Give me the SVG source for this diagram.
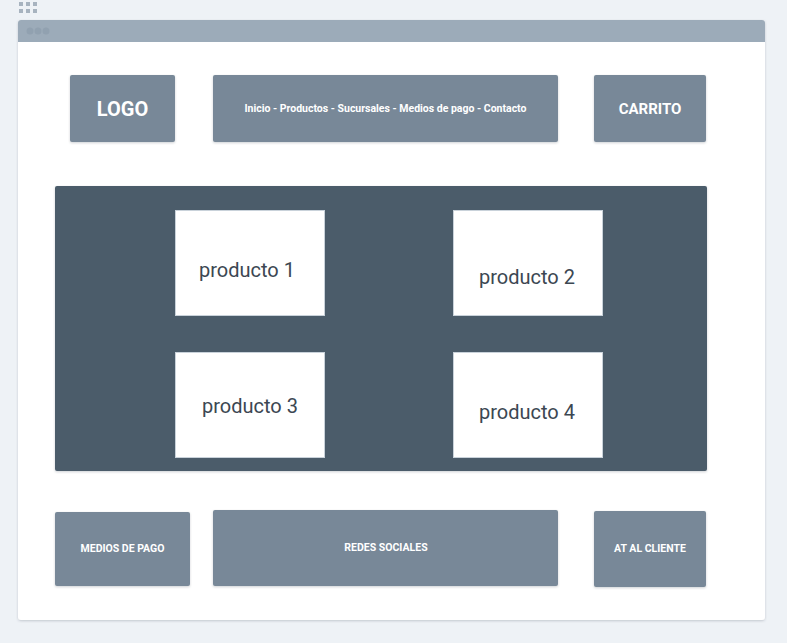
<svg xmlns="http://www.w3.org/2000/svg" width="787" height="643" viewBox="0 0 787 643">
  <style>
    .block { fill: #788898; }
    .card { fill: #ffffff; stroke: #c9d2da; stroke-width: 1; }
    .lbl { font-family: "Roboto", "DejaVu Sans Condensed", sans-serif; fill: #ffffff; text-anchor: middle; dominant-baseline: central; font-weight: bold; }
    .prod { font-family: "Roboto", "DejaVu Sans", sans-serif; fill: #3c4752; text-anchor: middle; dominant-baseline: central; font-size: 20px; }
  </style>
  <defs>
    <filter id="sh" x="-5%" y="-5%" width="110%" height="115%">
      <feDropShadow dx="0" dy="1" stdDeviation="0.8" flood-color="#3c4752" flood-opacity="0.25"/>
    </filter>
  </defs>
  <rect width="787" height="643" fill="#eef2f6"/>
  <!-- app grip -->
  <g fill="#a7b3bf">
    <rect x="19" y="2" width="4" height="4"/><rect x="26" y="2" width="4" height="4"/><rect x="33" y="2" width="4" height="4"/>
    <rect x="19" y="9" width="4" height="4"/><rect x="26" y="9" width="4" height="4"/><rect x="33" y="9" width="4" height="4"/>
  </g>
  <!-- browser window -->
  <g id="window">
    <rect x="18" y="20" width="747" height="600" rx="3" fill="#ffffff" filter="url(#sh)"/>
    <path d="M18 42 V23 a3 3 0 0 1 3 -3 H762 a3 3 0 0 1 3 3 V42 Z" fill="#9cabb9"/>
    <g fill="#91a1b0">
      <circle cx="30" cy="31" r="3.5"/><circle cx="38" cy="31" r="3.5"/><circle cx="46" cy="31" r="3.5"/>
    </g>
  </g>
  <g id="logo">
    <rect class="block" x="70" y="75" width="105" height="67" rx="2" filter="url(#sh)"/>
    <text class="lbl" x="122.5" y="109" font-size="20" font-weight="500">LOGO</text>
  </g>
  <g id="nav">
    <rect class="block" x="213" y="75" width="345" height="67" rx="2" filter="url(#sh)"/>
    <text class="lbl" x="385.5" y="108" font-size="10.5" font-weight="500">Inicio - Productos - Sucursales - Medios de pago - Contacto</text>
  </g>
  <g id="carrito">
    <rect class="block" x="594" y="75" width="112" height="67" rx="2" filter="url(#sh)"/>
    <text class="lbl" x="650" y="109" font-size="15">CARRITO</text>
  </g>
  <g id="catalogo">
    <rect x="55" y="186" width="652" height="285" rx="2" fill="#4b5c6b" filter="url(#sh)"/>
  </g>
  <g id="producto1">
    <rect class="card" x="175.5" y="210.5" width="149" height="105"/>
    <text class="prod" x="247" y="270">producto 1</text>
  </g>
  <g id="producto2">
    <rect class="card" x="453.5" y="210.5" width="149" height="105"/>
    <text class="prod" x="527" y="277">producto 2</text>
  </g>
  <g id="producto3">
    <rect class="card" x="175.5" y="352.5" width="149" height="105"/>
    <text class="prod" x="250" y="406">producto 3</text>
  </g>
  <g id="producto4">
    <rect class="card" x="453.5" y="352.5" width="149" height="105"/>
    <text class="prod" x="527" y="412">producto 4</text>
  </g>
  <g id="medios">
    <rect class="block" x="55" y="512" width="135" height="74" rx="2" filter="url(#sh)"/>
    <text class="lbl" x="122.5" y="548" font-size="10.5">MEDIOS DE PAGO</text>
  </g>
  <g id="redes">
    <rect class="block" x="213" y="510" width="345" height="76" rx="2" filter="url(#sh)"/>
    <text class="lbl" x="386" y="547" font-size="10.5">REDES SOCIALES</text>
  </g>
  <g id="cliente">
    <rect class="block" x="594" y="511" width="112" height="76" rx="2" filter="url(#sh)"/>
    <text class="lbl" x="650" y="548" font-size="10.5">AT AL CLIENTE</text>
  </g>
  <g id="connectors"/>
</svg>
